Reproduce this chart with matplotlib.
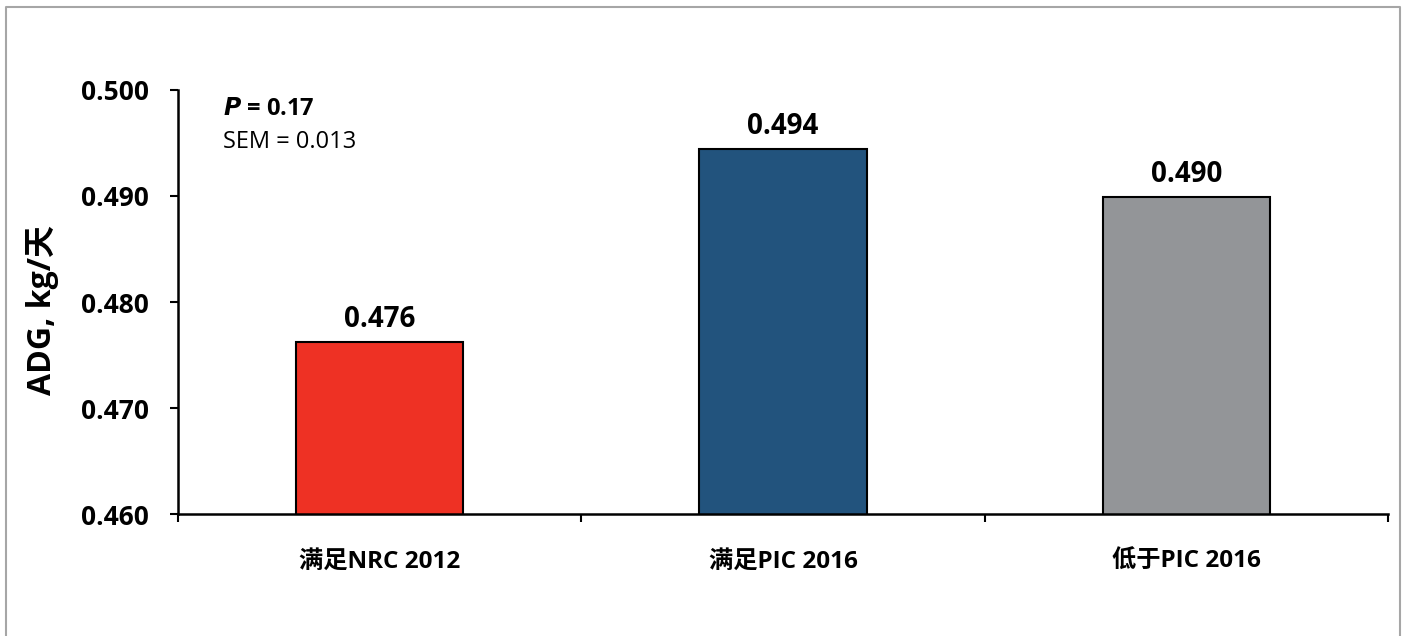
import matplotlib.pyplot as plt
from matplotlib.lines import Line2D

plt.rcParams['font.family'] = ['Open Sans', 'Noto Sans CJK SC', 'DejaVu Sans']

categories = ["满足NRC 2012", "满足PIC 2016", "低于PIC 2016"]
adg = [0.4762, 0.4944, 0.4899]
value_labels = ["0.476", "0.494", "0.490"]
colors = ["#EE3124", "#22537D", "#939598"]
yticks = [0.460, 0.470, 0.480, 0.490, 0.500]

fig = plt.figure(figsize=(14.07, 6.36), dpi=100)
ax = fig.add_axes([0.1265, 0.1918, 0.86, 0.6667])

x = range(len(categories))
ax.bar(x, adg, width=0.415, color=colors, edgecolor="black", linewidth=1.5, zorder=2)
for xi, v, lab in zip(x, adg, value_labels):
    ax.text(xi, v + 0.0008, lab, ha="center", va="bottom",
            fontsize=20, fontweight="bold")

ax.set_xlim(-0.5, 2.5)
ax.set_ylim(0.460, 0.500)
ax.set_yticks(yticks)
ax.set_yticklabels([f"{t:.3f}" for t in yticks], fontsize=19, fontweight="bold")
ax.set_xticks([-0.5, 0.5, 1.5, 2.5])
ax.set_xticklabels([])
ax.set_xticks(list(x), minor=True)
ax.set_xticklabels(categories, minor=True, fontsize=17.5, fontweight="bold")
ax.tick_params(axis="x", which="minor", length=0, pad=26)
ax.tick_params(axis="x", which="major", length=6, width=1.5, direction="out")
ax.tick_params(axis="y", length=6, width=1.5, direction="out", pad=15)

for s in ["top", "right"]:
    ax.spines[s].set_visible(False)
for s in ["left", "bottom"]:
    ax.spines[s].set_linewidth(1.8)

ax.set_ylabel("ADG, kg/天", fontsize=23, fontweight="bold")
ax.yaxis.label.set_va("center")
ax.yaxis.set_label_coords(-0.112, 0.481)

ax.text(0.037, 0.955, r"$\bfit{P}$" + " = 0.17", transform=ax.transAxes,
        fontsize=17, fontweight="bold", va="center")
ax.text(0.037, 0.877, "SEM = 0.013", transform=ax.transAxes,
        fontsize=17, va="center")

# light frame around the figure (left, top, right)
fx = [6 / 1407, 6 / 1407, 1400 / 1407, 1400 / 1407]
fy = [0.0, 1 - 7 / 636, 1 - 7 / 636, 0.0]
fig.add_artist(Line2D(fx, fy, transform=fig.transFigure, color="#A6A6A6", linewidth=1.5))

fig.savefig("out.png", dpi=100)
plt.close(fig)
